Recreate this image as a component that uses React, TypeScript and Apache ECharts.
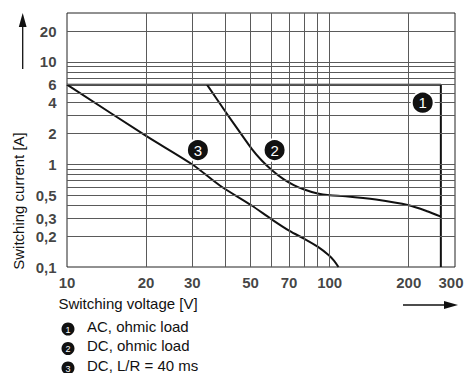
import React, { useEffect, useRef } from "react";
import * as echarts from "echarts";

// Tick values and labels
const xTickValues = [10, 20, 30, 50, 70, 100, 200, 300];
const xTickLabels = ["10", "20", "30", "50", "70", "100", "200", "300"];
const yTickValues = [20, 10, 6, 4, 2, 1, 0.5, 0.3, 0.2, 0.1];
const yTickLabels = ["20", "10", "6", "4", "2", "1", "0,5", "0,3", "0,2", "0,1"];
const xGridValues = [20, 30, 40, 50, 60, 70, 80, 90, 100, 200];
const yGridValues = [0.2, 0.3, 0.4, 0.5, 0.6, 0.7, 0.8, 0.9, 1, 2, 3, 4, 5, 6, 7, 8, 9, 10, 20];

// Curve 1: AC, ohmic load
const curve1: [number, number][] = [
  [10, 6],
  [265, 6],
  [265, 0.1],
];
// Curve 2: DC, ohmic load
const curve2: [number, number][] = [
  [34.1, 6],
  [40, 3.3],
  [45, 2.15],
  [50.5, 1.42],
  [55, 1.1],
  [60.3, 0.88],
  [66.7, 0.72],
  [73, 0.63],
  [80, 0.57],
  [90, 0.52],
  [100, 0.5],
  [115, 0.49],
  [150, 0.455],
  [200, 0.4],
  [235, 0.35],
  [265, 0.31],
];
// Curve 3: DC, L/R = 40 ms
const curve3: [number, number][] = [
  [10, 6],
  [20, 1.9],
  [30, 1.0],
  [38.3, 0.62],
  [50.3, 0.4],
  [60.3, 0.29],
  [70.3, 0.225],
  [80.2, 0.188],
  [90, 0.158],
  [99, 0.131],
  [104, 0.115],
  [108, 0.1],
];

// Curve marker positions
const markerNumbers = ["1", "2", "3"];
const markerPositions: [number, number][] = [
  [226, 4.0],
  [61.7, 1.38],
  [31.5, 1.38],
];

const legendLabels = ["AC, ohmic load", "DC, ohmic load", "DC, L/R = 40 ms"];
const xAxisName = "Switching voltage [V]";
const yAxisName = "Switching current [A]";

const FONT = "'Liberation Sans', Arial, Helvetica, sans-serif";

export default function App() {
  const ref = useRef<HTMLDivElement>(null);

  useEffect(() => {
    if (!ref.current) return;
    const chart = echarts.init(ref.current, undefined, { renderer: "svg" });

    const gridLineStyle = { color: "#5a5a5a", width: 1, type: "solid" as const };

    const legendGraphics: any[] = [];
    legendLabels.forEach((lab, i) => {
      const cy = 329 + i * 19.5;
      legendGraphics.push({
        type: "circle",
        shape: { cx: 68, cy, r: 6.5 },
        style: { fill: "#111" },
      });
      legendGraphics.push({
        type: "text",
        x: 68,
        y: cy + 0.5,
        style: {
          text: markerNumbers[i],
          fill: "#fff",
          font: `9px ${FONT}`,
          align: "center",
          verticalAlign: "middle",
        },
      });
      legendGraphics.push({
        type: "text",
        x: 87,
        y: cy - 3,
        style: {
          text: lab,
          fill: "#111",
          font: `15px ${FONT}`,
          align: "left",
          verticalAlign: "middle",
        },
      });
    });

    const option: any = {
      animation: false,
      backgroundColor: "#fff",
      textStyle: { fontFamily: FONT },
      grid: {
        left: 67,
        top: 13,
        width: 388,
        height: 254,
        show: true,
        borderColor: "#222",
        borderWidth: 1,
        backgroundColor: "transparent",
      },
      xAxis: {
        type: "log",
        logBase: 10,
        min: 10,
        max: 300,
        axisLine: { show: false },
        axisTick: { show: false },
        axisLabel: { show: false },
        splitLine: { show: false },
        minorSplitLine: { show: false },
      },
      yAxis: {
        type: "log",
        logBase: 10,
        min: 0.1,
        max: 30,
        axisLine: { show: false },
        axisTick: { show: false },
        axisLabel: { show: false },
        splitLine: { show: false },
        minorSplitLine: { show: false },
      },
      graphic: [
        // y arrow
        { type: "line", shape: { x1: 22.7, y1: 69, x2: 22.7, y2: 22 }, style: { stroke: "#111", lineWidth: 1.3 } },
        { type: "polygon", shape: { points: [[22.7, 13], [18.8, 27], [26.6, 27]] }, style: { fill: "#111" } },
        // x arrow
        { type: "line", shape: { x1: 403, y1: 305, x2: 446, y2: 305 }, style: { stroke: "#111", lineWidth: 1.3 } },
        { type: "polygon", shape: { points: [[458, 305], [444, 301], [444, 309]] }, style: { fill: "#111" } },
        {
          type: "text",
          x: 128,
          y: 303,
          style: { text: xAxisName, fill: "#111", font: `15px ${FONT}`, align: "center", verticalAlign: "middle" },
        },
        {
          type: "text",
          x: 18,
          y: 201,
          rotation: Math.PI / 2,
          style: { text: yAxisName, fill: "#111", font: `15px ${FONT}`, align: "center", verticalAlign: "middle" },
        },
        ...legendGraphics,
      ],
      series: [
        {
          name: "grid",
          type: "line",
          data: [[10, 0.1]],
          showSymbol: false,
          symbolSize: 0,
          lineStyle: { width: 0 },
          silent: true,
          z: 1,
          markLine: {
            silent: true,
            symbol: ["none", "none"],
            label: { show: false },
            lineStyle: gridLineStyle,
            emphasis: { disabled: true },
            animation: false,
            data: [
              ...xGridValues.map((v) => ({ xAxis: v })),
              ...yGridValues.map((v) => ({ yAxis: v })),
            ],
          },
        },
        {
          name: "AC, ohmic load",
          type: "line",
          data: curve1,
          showSymbol: false,
          lineStyle: { color: "#111", width: 2 },
          z: 3,
          clip: true,
        },
        {
          name: "DC, ohmic load",
          type: "line",
          data: curve2,
          showSymbol: false,
          smooth: 0.25,
          lineStyle: { color: "#111", width: 2 },
          z: 3,
        },
        {
          name: "DC, L/R = 40 ms",
          type: "line",
          data: curve3,
          showSymbol: false,
          smooth: 0.3,
          lineStyle: { color: "#111", width: 2 },
          z: 3,
        },
        {
          name: "markers",
          type: "scatter",
          data: markerPositions,
          symbolSize: 22,
          itemStyle: { color: "#111", borderColor: "#fff", borderWidth: 2, opacity: 1 },
          label: {
            show: true,
            position: "inside",
            formatter: (p: any) => markerNumbers[p.dataIndex],
            color: "#fff",
            fontSize: 15,
            fontFamily: FONT,
          },
          z: 5,
          silent: true,
          clip: false,
        },
        {
          name: "xticks",
          type: "scatter",
          data: xTickValues.map((v, i) =>
            i === xTickValues.length - 1
              ? { value: [v, 0.1], label: { offset: [-4, 0] } }
              : { value: [v, 0.1] }
          ),
          symbolSize: 1,
          itemStyle: { color: "transparent" },
          label: {
            show: true,
            position: "bottom",
            distance: 7,
            formatter: (p: any) => xTickLabels[p.dataIndex],
            color: "#111",
            fontSize: 15,
            fontWeight: "bold",
            fontFamily: FONT,
          },
          silent: true,
          clip: false,
          z: 4,
        },
        {
          name: "yticks",
          type: "scatter",
          data: yTickValues.map((v) => [10, v]),
          symbolSize: 1,
          itemStyle: { color: "transparent" },
          label: {
            show: true,
            position: "left",
            distance: 10,
            formatter: (p: any) => yTickLabels[p.dataIndex],
            color: "#111",
            fontSize: 15,
            fontWeight: "bold",
            fontFamily: FONT,
          },
          silent: true,
          clip: false,
          z: 4,
        },
      ],
    };

    chart.setOption(option);
    return () => {
      chart.dispose();
    };
  }, []);

  return (
    <div
      ref={ref}
      style={{ position: "fixed", left: 0, top: 0, width: 465, height: 373 }}
    />
  );
}
